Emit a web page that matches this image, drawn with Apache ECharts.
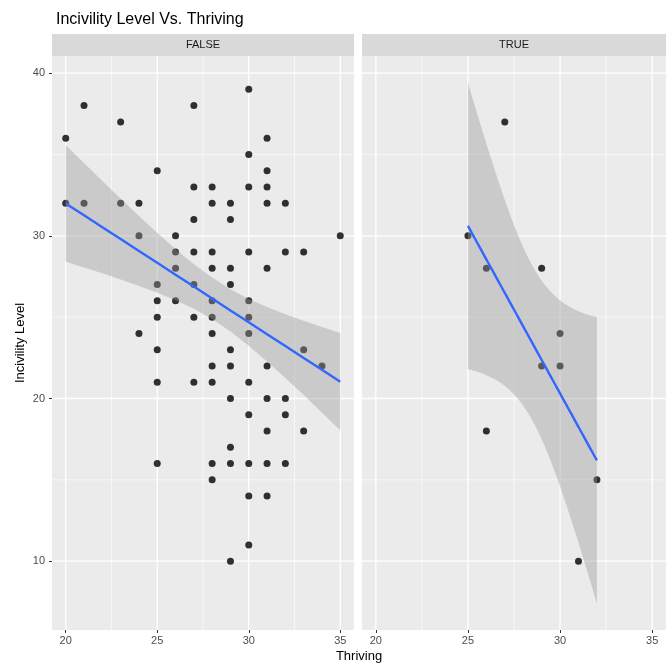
<!DOCTYPE html>
<html><head><meta charset="utf-8">
<script src="https://cdn.jsdelivr.net/npm/echarts@6/dist/echarts.min.js"></script>
<style>html,body{margin:0;padding:0;background:#fff}#c{width:670px;height:665px}</style>
</head><body><div id="c"></div>
<script>
// ---- data ----
const chartTitle = 'Incivility Level Vs. Thriving';
const panelNames = ['FALSE', 'TRUE'];
const xAxisTitle = 'Thriving';
const yAxisTitle = 'Incivility Level';

const falseThriving = [
  20,20, 21,21, 23,23, 24,24,24,
  25,25,25,25,25,25,25,
  26,26,26,26,
  27,27,27,27,27,27,27,
  28,28,28,28,28,28,28,28,28,28,28,
  29,29,29,29,29,29,29,29,29,29,
  30,30,30,30,30,30,30,30,30,30,30,30,
  31,31,31,31,31,31,31,31,31,31,
  32,32,32,32,32,
  33,33,33, 34, 35
];
const falseIncivility = [
  36,32, 38,32, 37,32, 32,30,24,
  34,27,26,25,23,21,16,
  30,29,28,26,
  38,33,31,29,27,25,21,
  33,32,29,28,26,25,24,22,21,16,15,
  32,31,28,27,23,22,20,17,16,10,
  39,35,33,29,26,25,24,21,19,16,14,11,
  36,34,33,32,28,22,20,18,16,14,
  32,29,20,19,16,
  29,23,18, 22, 30
];
const trueThriving   = [25, 26, 26, 27, 29, 29, 30, 30, 31, 32];
const trueIncivility = [30, 28, 18, 37, 28, 22, 24, 22, 10, 15];

// FALSE panel smoother (overlapping points hide part of the data)
const falseFitX     = [20, 21, 22, 23, 24, 25, 26, 27, 28, 29, 30, 31, 32, 33, 34, 35];
const falseFitY     = [31.99, 31.26, 30.53, 29.80, 29.07, 28.34, 27.61, 26.88, 26.15, 25.41, 24.68, 23.95, 23.22, 22.49, 21.76, 21.03];
const falseFitLower = [28.41, 28.05, 27.69, 27.31, 26.92, 26.50, 26.04, 25.51, 24.88, 24.11, 23.24, 22.28, 21.26, 20.21, 19.13, 18.04];
const falseFitUpper = [35.57, 34.47, 33.37, 32.29, 31.22, 30.18, 29.18, 28.25, 27.43, 26.71, 26.12, 25.62, 25.18, 24.77, 24.39, 24.02];

const xTicks = [20, 25, 30, 35];
const xMinorTicks = [22.5, 27.5, 32.5];
const yTicks = [10, 20, 30, 40];
const yMinorTicks = [15, 25, 35];
const xRange = [19.25, 35.75];
const yRange = [5.77, 41.05];
// 97.5% t quantile for df = n - 2 = 8 (TRUE panel, 95% band of lm smoother)
const tQuantileTrue = 2.306004;

// ---- linear fit with confidence band (TRUE panel) ----
function lmFit(xs, ys, tq) {
  const n = xs.length;
  const xbar = xs.reduce((a, b) => a + b, 0) / n;
  const ybar = ys.reduce((a, b) => a + b, 0) / n;
  let sxx = 0, sxy = 0;
  for (let i = 0; i < n; i++) { sxx += (xs[i] - xbar) ** 2; sxy += (xs[i] - xbar) * (ys[i] - ybar); }
  const b = sxy / sxx, a = ybar - b * xbar;
  let sse = 0;
  for (let i = 0; i < n; i++) sse += (ys[i] - a - b * xs[i]) ** 2;
  const s = Math.sqrt(sse / (n - 2));
  const xmin = Math.min(...xs), xmax = Math.max(...xs);
  const out = [];
  for (let k = 0; k < 80; k++) {
    const x = xmin + (xmax - xmin) * k / 79;
    const yh = a + b * x;
    const se = s * Math.sqrt(1 / n + (x - xbar) ** 2 / sxx);
    out.push([x, yh, yh - tq * se, yh + tq * se]);
  }
  return out;
}

const panelData = [
  {xs: falseThriving, ys: falseIncivility,
   fit: falseFitX.map((x, k) => [x, falseFitY[k], falseFitLower[k], falseFitUpper[k]])},
  {xs: trueThriving, ys: trueIncivility,
   fit: lmFit(trueThriving, trueIncivility, tQuantileTrue)}
];

const FONT = 'Liberation Sans, Arial, sans-serif';
const chart = echarts.init(document.getElementById('c'), null, {renderer: 'canvas'});

const grids = [
  {left: 52, right: 316, top: 56, bottom: 35, show: true, backgroundColor: '#EBEBEB', borderWidth: 0, containLabel: false},
  {left: 362, right: 4, top: 56, bottom: 35, show: true, backgroundColor: '#EBEBEB', borderWidth: 0, containLabel: false}
];

const xAxes = grids.map((g, i) => ({
  type: 'value', gridIndex: i, min: xRange[0], max: xRange[1],
  axisLine: {show: false},
  splitLine: {show: false},
  axisTick: {show: true, length: 3, lineStyle: {color: '#333333', width: 1}, customValues: xTicks},
  axisLabel: {show: true, color: '#4D4D4D', fontSize: 11, margin: 5, fontFamily: FONT, customValues: xTicks}
}));

const yAxes = grids.map((g, i) => ({
  type: 'value', gridIndex: i, min: yRange[0], max: yRange[1],
  axisLine: {show: false},
  splitLine: {show: false},
  axisTick: {show: i === 0, length: 3, lineStyle: {color: '#333333', width: 1}, customValues: yTicks},
  axisLabel: {show: i === 0, color: '#4D4D4D', fontSize: 11, margin: 7, fontFamily: FONT, customValues: yTicks},
  name: i === 0 ? yAxisTitle : '',
  nameLocation: 'middle', nameGap: 25,
  nameTextStyle: {color: '#000', fontSize: 13, fontFamily: FONT}
}));

const series = [];
panelData.forEach((pd, i) => {
  const gridLineSeries = (vals, vertical, width) => ({
    type: 'custom', xAxisIndex: i, yAxisIndex: i, silent: true, z: 1,
    data: vals.map(v => vertical ? [v, yRange[0]] : [xRange[0], v]),
    encode: {x: 0, y: 1},
    renderItem: (params, api) => {
      const v0 = api.value(0), v1 = api.value(1);
      const p1 = vertical ? api.coord([v0, yRange[0]]) : api.coord([xRange[0], v1]);
      const p2 = vertical ? api.coord([v0, yRange[1]]) : api.coord([xRange[1], v1]);
      return {type: 'line', shape: {x1: p1[0], y1: p1[1], x2: p2[0], y2: p2[1]},
              style: {stroke: '#FFFFFF', lineWidth: width}};
    }
  });
  series.push(gridLineSeries(xMinorTicks, true, 0.6));
  series.push(gridLineSeries(yMinorTicks, false, 0.6));
  series.push(gridLineSeries(xTicks, true, 1.3));
  series.push(gridLineSeries(yTicks, false, 1.3));

  series.push({
    type: 'scatter', xAxisIndex: i, yAxisIndex: i, z: 2,
    symbol: 'circle', symbolSize: 7,
    itemStyle: {color: '#000000'},
    data: pd.xs.map((x, k) => [x, pd.ys[k]]),
    silent: true
  });

  const fit = pd.fit;
  series.push({
    type: 'custom', xAxisIndex: i, yAxisIndex: i, z: 3, silent: true,
    data: fit.map(f => [f[0], f[2], f[3]]),
    encode: {x: 0, y: [1, 2]},
    renderItem: (params, api) => {
      if (params.dataIndex !== 0) return;
      const upper = fit.map(f => api.coord([f[0], f[3]]));
      const lower = fit.map(f => api.coord([f[0], f[2]])).reverse();
      return {type: 'polygon', shape: {points: upper.concat(lower)},
              style: {fill: 'rgba(153,153,153,0.4)'}};
    }
  });
  series.push({
    type: 'line', xAxisIndex: i, yAxisIndex: i, z: 4, silent: true,
    showSymbol: false, symbol: 'none',
    lineStyle: {color: '#3366FF', width: 2.4},
    data: fit.map(f => [f[0], f[1]])
  });
});

const option = {
  animation: false,
  backgroundColor: '#FFFFFF',
  title: {
    text: chartTitle, left: 51, top: 7,
    textStyle: {color: '#000', fontSize: 16, fontWeight: 'normal', fontFamily: FONT}
  },
  grid: grids,
  xAxis: xAxes,
  yAxis: yAxes,
  series: series,
  graphic: [
    {type: 'rect', left: 52, top: 34, shape: {width: 302, height: 22}, style: {fill: '#D9D9D9'}, silent: true},
    {type: 'text', x: 203, y: 45, style: {text: panelNames[0], fill: '#1A1A1A', fontSize: 11, align: 'center', verticalAlign: 'middle', fontFamily: FONT}, silent: true},
    {type: 'rect', left: 362, top: 34, shape: {width: 304, height: 22}, style: {fill: '#D9D9D9'}, silent: true},
    {type: 'text', x: 514, y: 45, style: {text: panelNames[1], fill: '#1A1A1A', fontSize: 11, align: 'center', verticalAlign: 'middle', fontFamily: FONT}, silent: true},
    {type: 'text', x: 359, y: 656, style: {text: xAxisTitle, fill: '#000', fontSize: 13, align: 'center', verticalAlign: 'middle', fontFamily: FONT}, silent: true}
  ]
};
chart.setOption(option);
</script>
</body></html>
